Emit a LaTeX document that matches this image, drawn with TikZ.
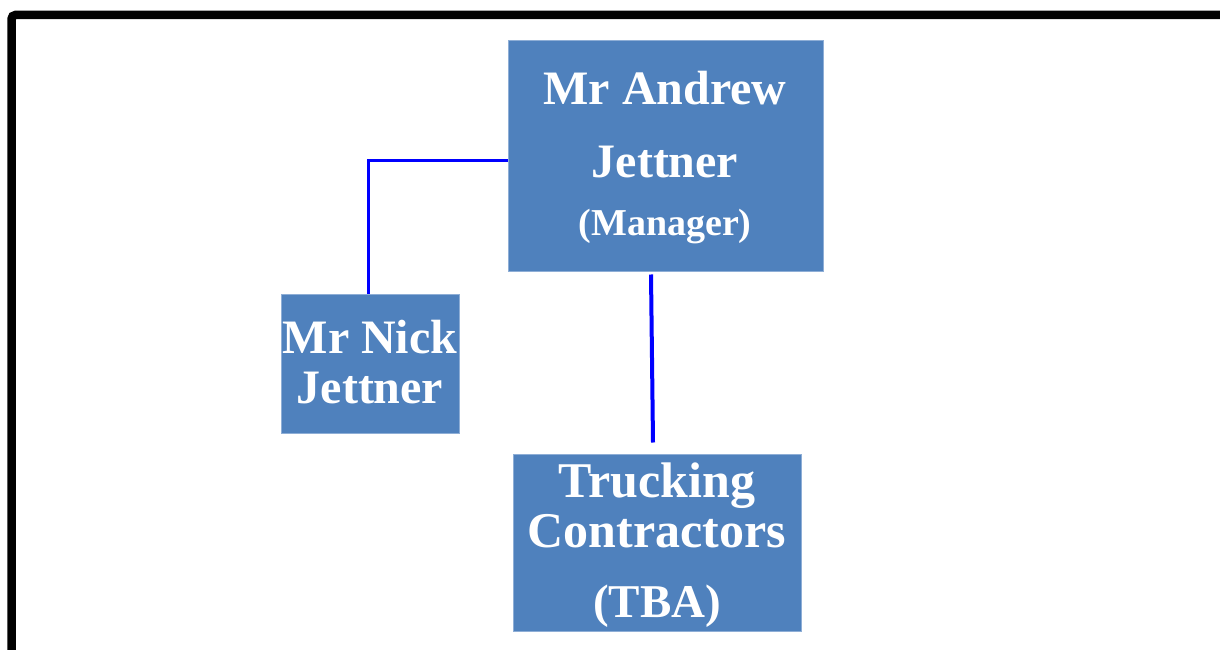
\documentclass[tikz,border=0pt]{standalone}
\usepackage{fontspec}
\setmainfont{Liberation Serif}
\definecolor{boxblue}{HTML}{4F81BD}
\definecolor{boxedge}{HTML}{8EAED6}
\definecolor{linkblue}{HTML}{0000FF}
\tikzset{
  orgbox/.style={rectangle, fill=boxblue, draw=boxedge, line width=1pt, inner sep=0pt},
  bigtxt/.style={text=white, anchor=base, inner sep=0pt, font=\bfseries\fontsize{48}{48}\selectfont},
  smalltxt/.style={text=white, anchor=base, inner sep=0pt, font=\bfseries\fontsize{38}{38}\selectfont},
  link/.style={draw=linkblue, line width=3pt},
  frameline/.style={draw=black, line width=8.5pt, rounded corners=4pt}
}
\begin{document}
\begin{tikzpicture}[x=1pt,y=-1pt]
\useasboundingbox (0,0) rectangle (1220,650);
\coordinate (frTR) at (1240,15);
\coordinate (frTL) at (11.5,15);
\coordinate (frBL) at (11.5,670);
\draw[frameline] (frTR) -- (frTL) -- (frBL);

\node[orgbox, minimum width=315pt, minimum height=230pt] (mgr) at (665.5,156) {};
\node[orgbox, minimum width=178pt, minimum height=139pt] (nick) at (370,363.5) {};
\node[orgbox, minimum width=288pt, minimum height=177pt] (trk) at (657,542.5) {};

\node[bigtxt] (mgrA) at (665,105) {Mr Andrew};
\node[bigtxt] (mgrB) at (665,177) {Jettner};
\node[smalltxt] (mgrC) at (665,235) {(Manager)};

\node[bigtxt] (nickA) at (370,353) {Mr Nick};
\node[bigtxt] (nickB) at (370,403) {Jettner};

\node[bigtxt, font=\bfseries\fontsize{50}{50}\selectfont] (trkA) at (657,497) {Trucking};
\node[bigtxt, font=\bfseries\fontsize{50}{50}\selectfont] (trkB) at (657,547) {Contractors};
\node[bigtxt, font=\bfseries\fontsize{47}{47}\selectfont] (trkC) at (657,617) {(TBA)};

\draw[link] ([yshift=-4pt]mgr.west) -| ([xshift=-2pt]nick.north);
\draw[link, line width=4pt] ([xshift=-14.5pt,yshift=-3pt]mgr.south) -- ([xshift=-4pt,yshift=11pt]trk.north);
\end{tikzpicture}
\end{document}
